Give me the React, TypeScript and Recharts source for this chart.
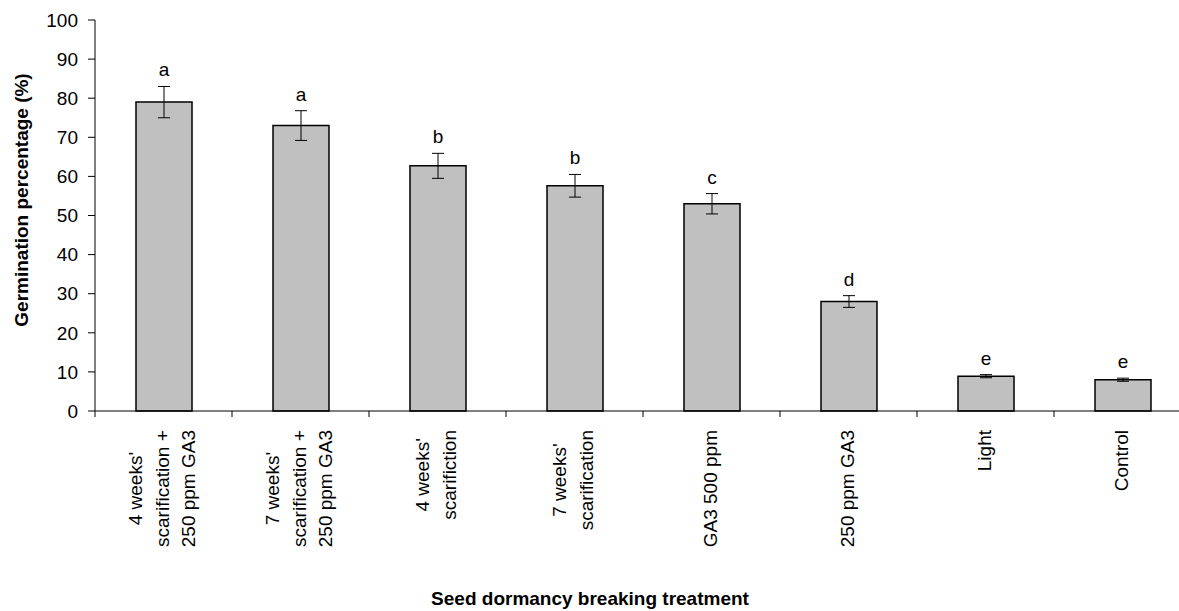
import React from 'react';
import { BarChart, Bar, XAxis, YAxis, ErrorBar, LabelList } from 'recharts';

const categories = [
  "4 weeks'|scarification +|250 ppm GA3",
  "7 weeks'|scarification +|250 ppm GA3",
  "4 weeks'|scarifiction",
  "7 weeks'|scarification",
  'GA3 500 ppm',
  '250 ppm GA3',
  'Light',
  'Control',
];
const germination = [79, 73, 62.7, 57.6, 53, 28, 8.9, 8];
const errors = [4, 3.8, 3.2, 2.9, 2.6, 1.5, 0.4, 0.4];
const letters = ['a', 'a', 'b', 'b', 'c', 'd', 'e', 'e'];
const yTicks = [0, 10, 20, 30, 40, 50, 60, 70, 80, 90, 100];

const data = categories.map((name, i) => ({
  name,
  value: germination[i],
  err: errors[i],
  letter: letters[i],
}));

const CHART_W = 1200;
const CHART_H = 611;
const MARGIN = { top: 20, right: 9, left: 0, bottom: 0 };
const Y_AXIS_W = 95;
const X_AXIS_H = 200;
const BAND = (CHART_W - MARGIN.left - MARGIN.right - Y_AXIS_W) / categories.length;
const FONT = '"Liberation Sans", Arial, sans-serif';
const FS = 19;

let ctx: CanvasRenderingContext2D | null = null;
function measure(s: string): number {
  if (!ctx) {
    const c = document.createElement('canvas');
    ctx = c.getContext('2d');
  }
  if (!ctx) return s.length * FS * 0.5;
  ctx.font = `${FS}px "Liberation Sans", Arial, sans-serif`;
  return ctx.measureText(s).width;
}

const CategoryTick = (props: any) => {
  const { x, y, payload, index } = props;
  const lines: string[] = String(payload.value).split('|');
  const n = lines.length;
  const blockW = Math.max(...lines.map(measure));
  const top = y + 19;
  const cy = top + blockW / 2;
  return (
    <g>
      <line x1={x - BAND / 2} y1={y} x2={x - BAND / 2} y2={y + 6} stroke="#000" strokeWidth={1} />
      {index === categories.length - 1 && (
        <line x1={x + BAND / 2} y1={y} x2={x + BAND / 2} y2={y + 6} stroke="#000" strokeWidth={1} />
      )}
      {lines.map((ln, i) => {
        const cx = x + (i - (n - 1) / 2) * 26.5 - 1.5;
        return (
          <text
            key={i}
            transform={`translate(${cx},${cy}) rotate(-90)`}
            textAnchor="middle"
            dominantBaseline="central"
            fontSize={FS}
            fontFamily={FONT}
            fill="#000"
          >
            {ln}
          </text>
        );
      })}
    </g>
  );
};

const LetterLabel = (props: any) => {
  const { x, y, width, height, index } = props;
  const v = germination[index];
  const pxPerUnit = v ? height / v : 0;
  const errTop = y - errors[index] * pxPerUnit;
  return (
    <text
      x={x + width / 2}
      y={errTop - 10}
      textAnchor="middle"
      fontSize={FS}
      fontFamily={FONT}
      fill="#000"
    >
      {letters[index]}
    </text>
  );
};

export default function App() {
  return (
    <div
      style={{
        position: 'absolute',
        left: 0,
        top: 0,
        width: 1179,
        height: 611,
        overflow: 'hidden',
        background: '#fff',
      }}
    >
      <BarChart width={CHART_W} height={CHART_H} data={data} margin={MARGIN}>
        <XAxis
          dataKey="name"
          interval={0}
          height={X_AXIS_H}
          tickSize={0}
          tickMargin={0}
          tickLine={false}
          axisLine={{ stroke: '#000', strokeWidth: 1 }}
          tick={<CategoryTick />}
          label={{
            content: () => (
              <text
                x={590}
                y={605}
                textAnchor="middle"
                fontSize={19}
                fontWeight="bold"
                fontFamily={FONT}
                fill="#000"
              >
                Seed dormancy breaking treatment
              </text>
            ),
          }}
        />
        <YAxis
          width={Y_AXIS_W}
          domain={[0, 100]}
          ticks={yTicks}
          interval={0}
          tickSize={7}
          tickMargin={10}
          tick={{ fontSize: FS, fontFamily: FONT, fill: '#000' }}
          axisLine={{ stroke: '#000', strokeWidth: 1 }}
          tickLine={{ stroke: '#000', strokeWidth: 1 }}
          label={{
            content: () => (
              <text
                transform="translate(21,200) rotate(-90)"
                textAnchor="middle"
                dominantBaseline="central"
                fontSize={19}
                fontWeight="bold"
                fontFamily={FONT}
                fill="#000"
              >
                Germination percentage (%)
              </text>
            ),
          }}
        />
        <Bar
          dataKey="value"
          fill="#c0c0c0"
          stroke="#000"
          strokeWidth={1.5}
          barSize={56}
          isAnimationActive={false}
        >
          <ErrorBar dataKey="err" width={6} stroke="#000" strokeWidth={1} direction="y" />
          <LabelList dataKey="letter" content={<LetterLabel />} />
        </Bar>
      </BarChart>
    </div>
  );
}
